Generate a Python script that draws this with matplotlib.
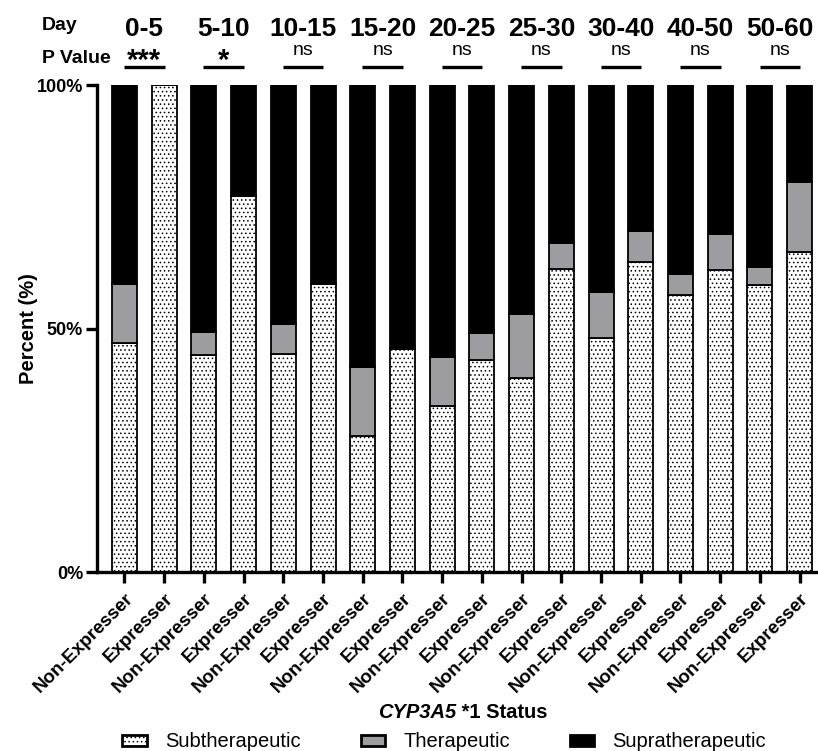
import matplotlib
matplotlib.use("Agg")
import matplotlib.pyplot as plt
from matplotlib.patches import Patch

plt.rcParams["font.family"] = ["Liberation Sans", "DejaVu Sans"]
plt.rcParams["hatch.linewidth"] = 0.6

# =========================
# DATA
# =========================

day_ranges = ["0-5", "5-10", "10-15", "15-20", "20-25", "25-30", "30-40", "40-50", "50-60"]
p_values = ["***", "*", "ns", "ns", "ns", "ns", "ns", "ns", "ns"]
status = ["Non-Expresser", "Expresser"] * 9

sub = [47.0, 100.0, 44.6, 77.2, 44.8, 59.1, 27.9, 45.8, 34.1,
       43.5, 39.8, 62.2, 48.0, 63.7, 56.9, 62.0, 58.9, 65.7]
ther = [12.1, 0.0, 4.7, 0.0, 6.1, 0.0, 14.2, 0.0, 10.0,
        5.6, 13.2, 5.4, 9.5, 6.3, 4.3, 7.4, 3.7, 14.4]
supra = [100 - s - t for s, t in zip(sub, ther)]

gray = "#9d9ca1"

# =========================
# FIGURE
# =========================

fig = plt.figure(figsize=(8.18, 7.51), dpi=100)
ax = fig.add_axes([0.1186, 0.2383, 0.8784, 0.6485])

x = list(range(len(sub)))
bottom_t = sub
bottom_s = [s + t for s, t in zip(sub, ther)]

ax.bar(x, sub, width=0.63, color="white", edgecolor="black",
       linewidth=1.3, hatch="....")
ax.bar(x, ther, width=0.63, bottom=bottom_t, color=gray,
       edgecolor="black", linewidth=1.3)
ax.bar(x, supra, width=0.63, bottom=bottom_s, color="black",
       edgecolor="black", linewidth=1.3)

ax.set_xlim(-0.69, 17.4)
ax.set_ylim(0, 100)

for side in ["top", "right"]:
    ax.spines[side].set_visible(False)
for side in ["left", "bottom"]:
    ax.spines[side].set_linewidth(2.4)

ax.set_yticks([0, 50, 100])
ax.set_yticklabels(["0%", "50%", "100%"], fontsize=13, fontweight="bold")
ax.set_xticks(x)
ax.set_xticklabels(status, rotation=45, ha="right", rotation_mode="anchor",
                   fontsize=13.5, fontweight="bold")
ax.tick_params(axis="both", length=8, width=2.4)
ax.tick_params(axis="x", pad=5)
ax.tick_params(axis="y", pad=2)

ax.set_ylabel("Percent (%)", fontsize=14.5, fontweight="bold")
ax.yaxis.set_label_coords(-0.082, 0.5)

# =========================
# HEADER: DAY / P VALUE
# =========================

trans = ax.get_xaxis_transform()
for k, (rng, p) in enumerate(zip(day_ranges, p_values)):
    cx = 2 * k + 0.5
    ax.text(cx, 1.100, rng, transform=trans, ha="center", va="baseline",
            fontsize=19, fontweight="bold", clip_on=False)
    if "*" in p:
        ax.text(cx, 1.033, p, transform=trans, ha="center", va="baseline",
                fontsize=21, fontweight="bold", clip_on=False)
    else:
        ax.text(cx, 1.0616, p, transform=trans, ha="center", va="baseline",
                fontsize=14, clip_on=False)
    ax.plot([cx - 0.51, cx + 0.51], [1.037, 1.037], transform=trans,
            color="black", linewidth=2.4, clip_on=False, solid_capstyle="butt")

fig.text(0.051, 0.960, "Day", fontsize=14, fontweight="bold", va="baseline")
fig.text(0.051, 0.916, "P Value", fontsize=14, fontweight="bold", va="baseline")

# =========================
# X LABEL (italic gene name)
# =========================

xl1 = fig.text(0, 0.051, "CYP3A5", fontsize=14.5, fontweight="bold",
               style="italic", ha="left", va="center")
xl2 = fig.text(0, 0.051, " *1 Status", fontsize=14.5, fontweight="bold",
               ha="left", va="center")
fig.canvas.draw()
w1 = xl1.get_window_extent().width / fig.bbox.width
w2 = xl2.get_window_extent().width / fig.bbox.width
start = 0.566 - (w1 + w2) / 2
xl1.set_x(start)
xl2.set_x(start + w1)

# =========================
# LEGEND
# =========================

handles = [
    Patch(facecolor="white", edgecolor="black", hatch="....", linewidth=2),
    Patch(facecolor=gray, edgecolor="black", linewidth=2),
    Patch(facecolor="black", edgecolor="black", linewidth=2),
]
fig.legend(handles, ["Subtherapeutic", "Therapeutic", "Supratherapeutic"],
           loc="center", bbox_to_anchor=(0.543, 0.012), ncol=3,
           frameon=False, fontsize=14.5, columnspacing=3.0,
           handlelength=1.2, handleheight=0.5, handletextpad=0.9,
           borderpad=0.1)

fig.savefig("out.png", dpi=100)
